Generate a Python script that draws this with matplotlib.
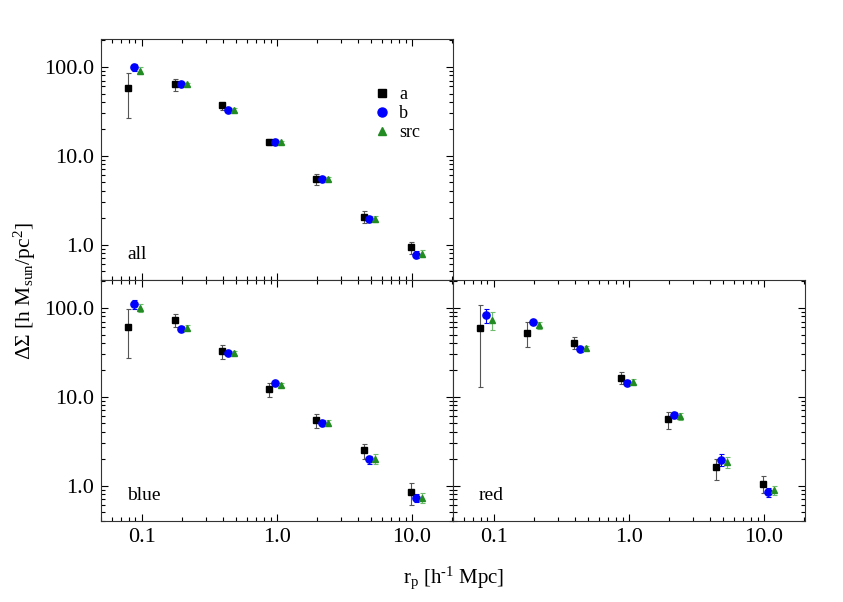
import numpy as np
import matplotlib
matplotlib.use("Agg")
import matplotlib.pyplot as plt
from matplotlib.ticker import FixedLocator, FixedFormatter, LogLocator, NullFormatter

plt.rcParams['font.family'] = ['Liberation Serif', 'DejaVu Serif']
plt.rcParams['mathtext.fontset'] = 'custom'
plt.rcParams['mathtext.rm'] = 'Liberation Serif'
plt.rcParams['mathtext.it'] = 'Liberation Serif:italic'

# radial bins (Mpc/h) for series "a"; b and src are drawn slightly offset
r_a = [0.0796, 0.178, 0.396, 0.884, 1.97, 4.40, 9.82]
off_b = 1.10
off_src = 1.22

# ---- panel "all"
all_a = [58, 63.2, 36.7, 14.2, 5.49, 2.05, 0.94]
all_a_lo = [31.3, 9.5, 3.7, 1.1, 0.84, 0.30, 0.15]
all_a_hi = [27.6, 9.8, 2.5, 1.1, 0.81, 0.32, 0.14]
all_b = [99, 63.2, 32.2, 14.3, 5.5, 1.96, 0.77]
all_b_err = [9, 2.5, 1.5, 0.6, 0.3, 0.15, 0.07]
all_s = [90.2, 63.2, 32.8, 14.2, 5.5, 1.95, 0.79]
all_s_err = [8, 3, 1.5, 0.6, 0.3, 0.15, 0.07]

# ---- panel "blue"
blue_a = [61.2, 72.1, 32.7, 12.2, 5.4, 2.51, 0.85]
blue_a_lo = [34.2, 10.9, 6.4, 2.25, 0.93, 0.52, 0.24]
blue_a_hi = [34.6, 12.1, 5.1, 2.0, 1.0, 0.45, 0.23]
blue_b = [109, 58.1, 30.8, 14.2, 5.09, 1.97, 0.73]
blue_b_err = [12, 4, 1.5, 0.7, 0.4, 0.2, 0.08]
blue_s = [100, 59.7, 31.0, 13.7, 5.1, 2.01, 0.73]
blue_s_err = [11, 4, 1.5, 0.7, 0.4, 0.25, 0.1]

# ---- panel "red"
red_a = [58.7, 52, 40.5, 16.3, 5.64, 1.61, 1.05]
red_a_lo = [45.9, 16.1, 6.0, 2.5, 1.28, 0.44, 0.22]
red_a_hi = [47.3, 16.5, 5.8, 2.4, 1.16, 0.39, 0.22]
red_b = [82, 69, 34.1, 14.4, 6.26, 1.94, 0.85]
red_b_err = [15, 4, 2, 1, 0.5, 0.3, 0.1]
red_s = [72.7, 63.4, 35.3, 14.8, 6.0, 1.84, 0.89]
red_s_err = [16, 5, 2, 1, 0.5, 0.25, 0.11]

xticks = [0.1, 1.0, 10.0]
xticklabels = ['0.1', '1.0', '10.0']
yticks = [1.0, 10.0, 100.0]
yticklabels = ['1.0', '10.0', '100.0']

W, H = 843, 602
fig = plt.figure(figsize=(W / 100, H / 100), dpi=100)

def px_axes(x0, y0, x1, y1):
    return fig.add_axes([x0 / W, 1 - y1 / H, (x1 - x0) / W, (y1 - y0) / H])

ax_all = px_axes(101, 39, 453, 280)
ax_blue = px_axes(101, 280, 453, 521)
ax_red = px_axes(453, 280, 805, 521)

c_a = 'black'
c_b = '#0000ff'
c_s = '#228b22'

def draw(ax, a, alo, ahi, b, berr, s, serr, label, show_xlab, show_ylab):
    r = np.array(r_a)
    ax.errorbar(r, a, yerr=[alo, ahi], fmt='s', color=c_a, ms=5.0, ecolor='#555555',
                elinewidth=0.8, capsize=1.8, capthick=0.8, label='a', zorder=3)
    ax.errorbar(r * off_b, b, yerr=berr, fmt='o', color=c_b, ms=5.2, ecolor=c_b,
                elinewidth=0.8, capsize=1.8, capthick=0.8, label='b', zorder=3)
    ax.errorbar(r * off_src, s, yerr=serr, fmt='^', color=c_s, ms=5.0, ecolor='#6dbb6d',
                elinewidth=0.8, capsize=1.8, capthick=0.8, label='src', zorder=3)
    ax.set_xscale('log')
    ax.set_yscale('log')
    ax.set_xlim(0.05, 20.2)
    ax.set_ylim(0.4, 205)
    ax.xaxis.set_major_locator(FixedLocator(xticks))
    ax.xaxis.set_minor_locator(LogLocator(base=10, subs=np.arange(2, 10)))
    ax.yaxis.set_major_locator(FixedLocator(yticks))
    ax.yaxis.set_minor_locator(LogLocator(base=10, subs=np.arange(2, 10)))
    ax.xaxis.set_minor_formatter(NullFormatter())
    ax.yaxis.set_minor_formatter(NullFormatter())
    if show_xlab:
        ax.xaxis.set_major_formatter(FixedFormatter(xticklabels))
    else:
        ax.xaxis.set_major_formatter(NullFormatter())
    if show_ylab:
        ax.yaxis.set_major_formatter(FixedFormatter(yticklabels))
    else:
        ax.yaxis.set_major_formatter(NullFormatter())
    ax.tick_params(which='both', direction='in', top=True, right=True,
                   labelsize=16, colors='black', width=0.8)
    ax.tick_params(which='major', length=5, pad=5)
    ax.tick_params(which='minor', length=2.7)
    for sp in ax.spines.values():
        sp.set_linewidth(0.8)
        sp.set_color('#333333')
    ax.text(0.074, 0.087, label, transform=ax.transAxes, fontsize=14,
            ha='left', va='baseline')

draw(ax_all, all_a, all_a_lo, all_a_hi, all_b, all_b_err, all_s, all_s_err, 'all', False, True)
draw(ax_blue, blue_a, blue_a_lo, blue_a_hi, blue_b, blue_b_err, blue_s, blue_s_err, 'blue', True, True)
draw(ax_red, red_a, red_a_lo, red_a_hi, red_b, red_b_err, red_s, red_s_err, 'red', True, False)

h, l = ax_all.get_legend_handles_labels()
h = [hh[0] for hh in h]
leg = ax_all.legend(h, l, loc='upper left', bbox_to_anchor=(0.755, 0.835), frameon=False,
                    handlelength=0.9, labelspacing=0.12, handletextpad=0.5, fontsize=13,
                    borderaxespad=0, markerscale=1.25)

fig.text(0.029, 0.517, r'$\Delta\Sigma$ [h M$_{\mathrm{sun}}$/pc$^2$]', rotation=90,
         ha='center', va='center', fontsize=15.5)
fig.text(0.538, 0.04, r'r$_{\mathrm{p}}$ [h$^{\text{-1}}$ Mpc]', ha='center', va='center', fontsize=15)

fig.savefig('out.png', dpi=100)
